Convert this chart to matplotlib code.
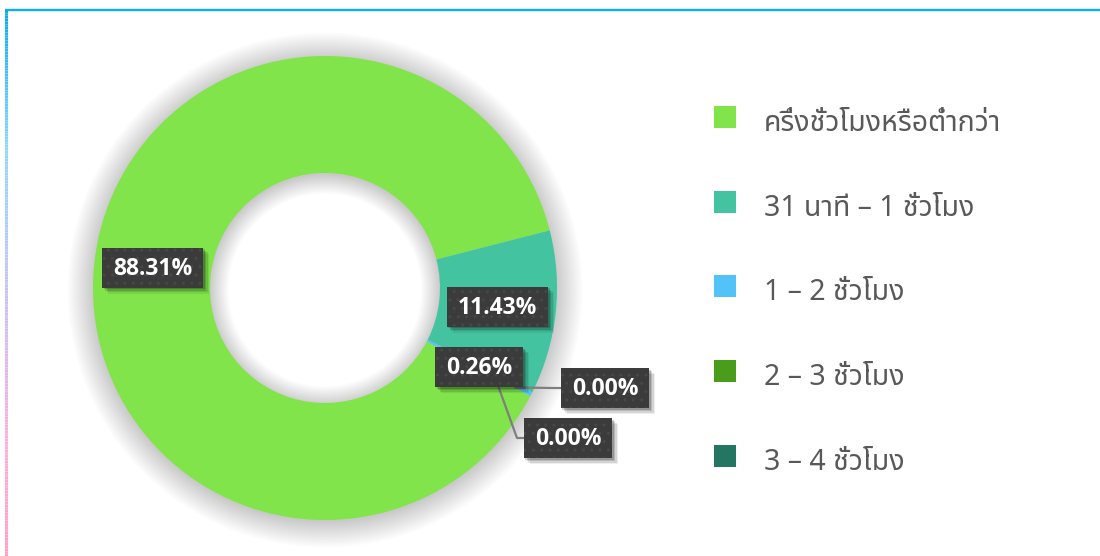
import numpy as np
import matplotlib
matplotlib.use('Agg')
import matplotlib.pyplot as plt
from matplotlib.patches import Rectangle, Wedge
from matplotlib.collections import LineCollection
from matplotlib.colors import LinearSegmentedColormap

# ---------------- data ----------------
categories = ['ครึ่งชั่วโมงหรือต่ำกว่า', '31 นาที – 1 ชั่วโมง', '1 – 2 ชั่วโมง',
              '2 – 3 ชั่วโมง', '3 – 4 ชั่วโมง']
values = [88.31, 11.43, 0.26, 0.00, 0.00]
value_labels = ['88.31%', '11.43%', '0.26%', '0.00%', '0.00%']
colors = ['#80e44a', '#44c3a1', '#52c3f8', '#4a9c1b', '#257563']

THAI = ['Noto Sans Thai', 'DejaVu Sans']
NUMF = ['Open Sans', 'DejaVu Sans']

W, H = 1100, 556
fig = plt.figure(figsize=(11, 5.56), dpi=100)
ax = fig.add_axes([0, 0, 1, 1])

CX, CY = 325, H - 288
R, RIN = 232, 115
START = -27.7

# soft shadow around the ring
for k in range(18):
    ro = R + 1.5 * k
    ri = RIN - 1.1 * k
    ax.add_patch(Wedge((CX, CY - 2), ro, 0, 360, width=ro - ri,
                       facecolor='black', alpha=0.010, edgecolor='none', zorder=1))

wedges, _ = ax.pie(values, colors=colors, startangle=START, counterclock=False,
                   radius=R, center=(CX, CY), frame=True,
                   wedgeprops=dict(width=R - RIN, edgecolor='none', zorder=2))
ax.set_xlim(0, W)
ax.set_ylim(0, H)
ax.set_aspect('equal')
ax.axis('off')

# mid angles of slices
total = sum(values)
mids = []
a = START
for v in values:
    span = 360.0 * v / total
    mids.append(a - span / 2)
    a -= span

RM = (R + RIN) / 2
label_pos = []
for i in range(3):
    t = np.deg2rad(mids[i])
    label_pos.append((CX + RM * np.cos(t), CY + RM * np.sin(t)))
# zero-value labels pulled outside with leader lines
label_pos.append((605, H - 388))
label_pos.append((568, H - 438))
anchor_r = [None, None, None, 214, 192]
elbows = [None, None, None, (553, H - 388), (517, H - 438)]

for i in (3, 4):
    t = np.deg2rad(mids[i])
    ax0 = CX + anchor_r[i] * np.cos(t)
    ay0 = CY + anchor_r[i] * np.sin(t)
    ex, ey = elbows[i]
    ax.plot([ax0, ex, label_pos[i][0] - 40], [ay0, ey, ey], color='#7f7f7f',
            lw=1.6, zorder=3, solid_capstyle='butt')

fig.canvas.draw()
renderer = fig.canvas.get_renderer()
for i, lab in enumerate(value_labels):
    x, y = label_pos[i]
    txt = ax.text(x, y - 1, lab, ha='center', va='center', color='white',
                  fontsize=16.5, fontweight='bold', family=NUMF, zorder=8)
    bb = txt.get_window_extent(renderer)
    bw = bb.width + 22
    bh = 40
    # shadow
    for s, al in ((6, 0.07), (4.5, 0.10), (3, 0.14), (1.5, 0.18)):
        ax.add_patch(Rectangle((x - bw / 2 + s, y - bh / 2 - s), bw, bh,
                               facecolor='black', alpha=al, edgecolor='none', zorder=5))
    ax.add_patch(Rectangle((x - bw / 2, y - bh / 2), bw, bh, facecolor='#3b3b3b',
                           edgecolor='none', zorder=6))
    ax.add_patch(Rectangle((x - bw / 2, y - bh / 2), bw, bh, facecolor='none',
                           edgecolor='#474747', hatch='..', lw=0, zorder=7))

# legend
sq = 22
row_centers = [117, 202, 286, 371, 456]
for i, cat in enumerate(categories):
    yc = H - row_centers[i]
    ax.add_patch(Rectangle((714, yc - sq / 2), sq, sq, facecolor=colors[i],
                           edgecolor='none', zorder=5))
    ax.text(764, yc - 14, cat, ha='left', va='baseline', fontsize=20.5,
            color='#595959', family=THAI, zorder=5)

# frame: top blue line and gradient left line
ax.plot([5, W], [H - 10, H - 10], color='#0aaff0', lw=1.7, zorder=10,
        solid_capstyle='butt')
cmap = LinearSegmentedColormap.from_list(
    'edge', [(0, '#0aaaf0'), (0.25, '#8ed8fa'), (0.45, '#bcc8f6'),
             (0.65, '#deb8ee'), (0.8, '#fbb0da'), (1, '#ff9cc6')])
ys = np.linspace(H - 10, 0, 200)
pts = np.array([[6 * np.ones_like(ys), ys]]).transpose(2, 0, 1).reshape(-1, 1, 2)
segs = np.concatenate([pts[:-1], pts[1:]], axis=1)
lc = LineCollection(segs, colors=cmap(np.linspace(0, 1, len(segs))), lw=2.2, zorder=10)
ax.add_collection(lc)

fig.savefig('out.png', dpi=100)
